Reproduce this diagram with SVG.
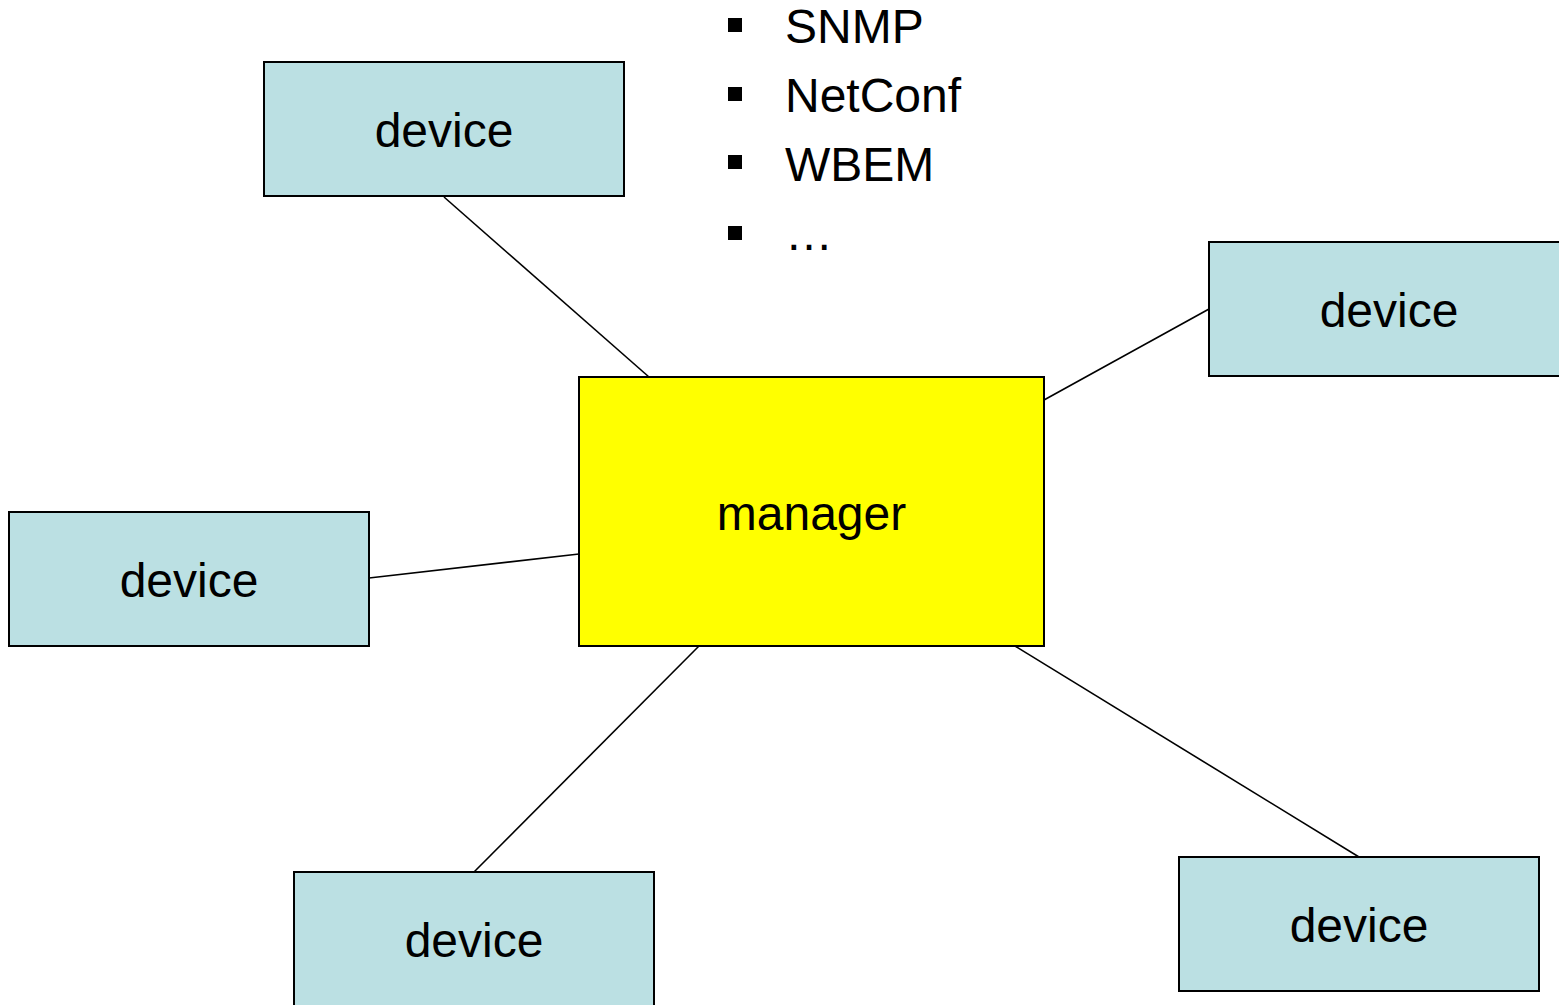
<svg xmlns="http://www.w3.org/2000/svg" width="1559" height="1005" viewBox="0 0 1559 1005">
<style>
.dev{fill:#bbe0e3;stroke:#000;stroke-width:2}
.mgr{fill:#ffff00;stroke:#000;stroke-width:2}
.lbl{font-family:"Liberation Sans",Arial,sans-serif;font-size:48px;fill:#000;text-anchor:middle}
.bl{font-family:"Liberation Sans",Arial,sans-serif;font-size:48px;fill:#000}
.conn line{stroke:#000;stroke-width:1.6}
</style>
<rect width="1559" height="1005" fill="#fff"/>
<g id="connectors" class="conn">
<line x1="444" y1="197" x2="649" y2="377"/>
<line x1="1044" y1="400" x2="1209" y2="309"/>
<line x1="369" y1="578" x2="579" y2="554"/>
<line x1="699" y1="646" x2="474" y2="872"/>
<line x1="1015" y1="646" x2="1359" y2="857"/>
</g>
<g id="device-top">
<rect class="dev" x="264" y="62" width="360" height="134"/>
<text class="lbl" x="444" y="147">device</text>
</g>
<g id="device-right">
<rect class="dev" x="1209" y="242" width="360" height="134"/>
<text class="lbl" x="1389" y="327">device</text>
</g>
<g id="device-left">
<rect class="dev" x="9" y="512" width="360" height="134"/>
<text class="lbl" x="189" y="597">device</text>
</g>
<g id="device-bottom-left">
<rect class="dev" x="294" y="872" width="360" height="160"/>
<text class="lbl" x="474" y="957">device</text>
</g>
<g id="device-bottom-right">
<rect class="dev" x="1179" y="857" width="360" height="134"/>
<text class="lbl" x="1359" y="942">device</text>
</g>
<g id="manager">
<rect class="mgr" x="579" y="377" width="465" height="269"/>
<text class="lbl" x="811.5" y="530">manager</text>
</g>
<g id="protocols">
<rect x="728" y="18" width="14" height="14" fill="#000"/>
<text class="bl" x="785" y="43">SNMP</text>
<rect x="728" y="87" width="14" height="14" fill="#000"/>
<text class="bl" x="785" y="112">NetConf</text>
<rect x="728" y="155" width="14" height="14" fill="#000"/>
<text class="bl" x="785" y="181">WBEM</text>
<rect x="728" y="226" width="14" height="14" fill="#000"/>
<text class="bl" x="785" y="250">…</text>
</g>
</svg>
